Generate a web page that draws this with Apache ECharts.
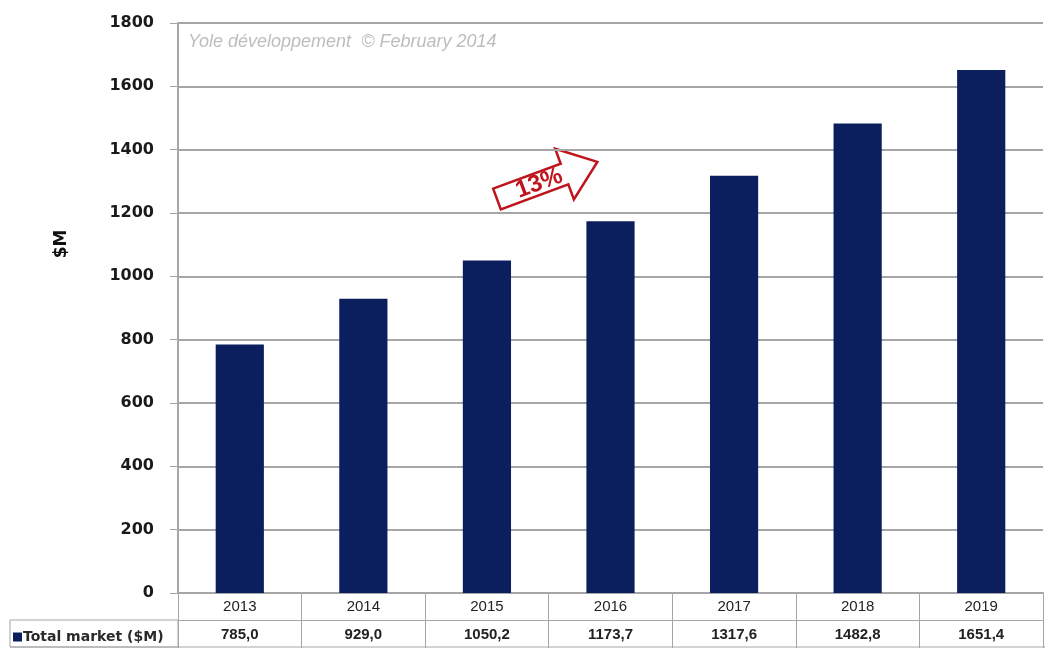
<!DOCTYPE html>
<html><head><meta charset="utf-8">
<script src="https://cdn.jsdelivr.net/npm/echarts@6/dist/echarts.min.js"></script>
<style>html,body{margin:0;padding:0;background:#fff}#c{width:1045px;height:648px}</style>
</head><body><div id="c"></div>
<script>
const years = ['2013','2014','2015','2016','2017','2018','2019'];
const totalMarket = [785.0, 929.0, 1050.2, 1173.7, 1317.6, 1482.8, 1651.4];
const valueLabels = ['785,0','929,0','1050,2','1173,7','1317,6','1482,8','1651,4'];
const seriesName = 'Total market ($M)';

const chart = echarts.init(document.getElementById('c'));
const grey = '#a6a6a6';
const option = {
  animation: false,
  backgroundColor: '#fff',
  grid: {left: 178, right: 2, top: 23, bottom: 55},
  legend: {
    data: [seriesName], left: 8, top: 625, itemWidth: 9, itemHeight: 9, icon: 'rect', itemGap: 0,
    textStyle: {fontFamily: 'DejaVu Sans', fontSize: 14, fontWeight: 'bold', color: '#2a2a2a', padding: [0,0,0,-4]}
  },
  xAxis: [{
    type: 'category', data: years, position: 'bottom',
    axisLine: {lineStyle: {color: grey, width: 2}},
    axisTick: {show: true, length: 55, lineStyle: {color: grey, width: 1}},
    axisLabel: {margin: 6, fontFamily: 'Liberation Sans', fontSize: 15, color: '#222'}
  }, {
    type: 'category', data: valueLabels, position: 'bottom', offset: 27,
    axisLine: {show: true, lineStyle: {color: grey, width: 1}},
    axisTick: {show: false},
    axisLabel: {margin: 7, fontFamily: 'Liberation Sans', fontSize: 15, fontWeight: 'bold', color: '#222'}
  }],
  yAxis: {
    type: 'value', min: 0, max: 1800, interval: 200,
    axisLine: {show: true, lineStyle: {color: grey, width: 2}},
    axisTick: {show: true, length: 8, lineStyle: {color: grey}},
    axisLabel: {margin: 24, fontFamily: 'DejaVu Sans', fontSize: 16, fontWeight: 'bold', color: '#1a1a1a', formatter: v => String(v)},
    splitLine: {lineStyle: {color: grey, width: 2}}
  },
  series: [{
    name: seriesName, type: 'bar', data: totalMarket, xAxisIndex: 0,
    barWidth: '39%', itemStyle: {color: '#0b1e5e'}
  }],
  graphic: [
    {type: 'text', left: 188, top: 33, style: {text: 'Yole développement  © February 2014', fontFamily: 'Liberation Sans', fontStyle: 'italic', fontSize: 18, fill: '#bdbdbd'}},
    {type: 'text', x: 62, y: 244, rotation: Math.PI / 2, style: {text: '$M', fontFamily: 'DejaVu Sans', fontSize: 17, fontWeight: 'bold', fill: '#111', align: 'center', verticalAlign: 'middle'}},
    {type: 'rect', shape: {x: 10, y: 620, width: 168, height: 27}, style: {fill: 'none', stroke: grey, lineWidth: 1}},
    {type: 'line', shape: {x1: 10, y1: 647, x2: 1045, y2: 647}, style: {stroke: grey, lineWidth: 1}},
    {type: 'group', x: 497, y: 199, rotation: 20.3 * Math.PI / 180, children: [
      {type: 'polygon', shape: {points: [[0,-11],[72,-11],[72,-27],[107,0],[72,27],[72,11],[0,11]]},
       style: {fill: '#fff', stroke: '#c0141c', lineWidth: 2.5}},
      {type: 'text', x: 45, y: 0, style: {text: '13%', fontFamily: 'Liberation Sans', fontSize: 24, fontWeight: 'bold', fill: '#c0141c', align: 'center', verticalAlign: 'middle'}}
    ]}
  ]
};
chart.setOption(option);
</script></body></html>
